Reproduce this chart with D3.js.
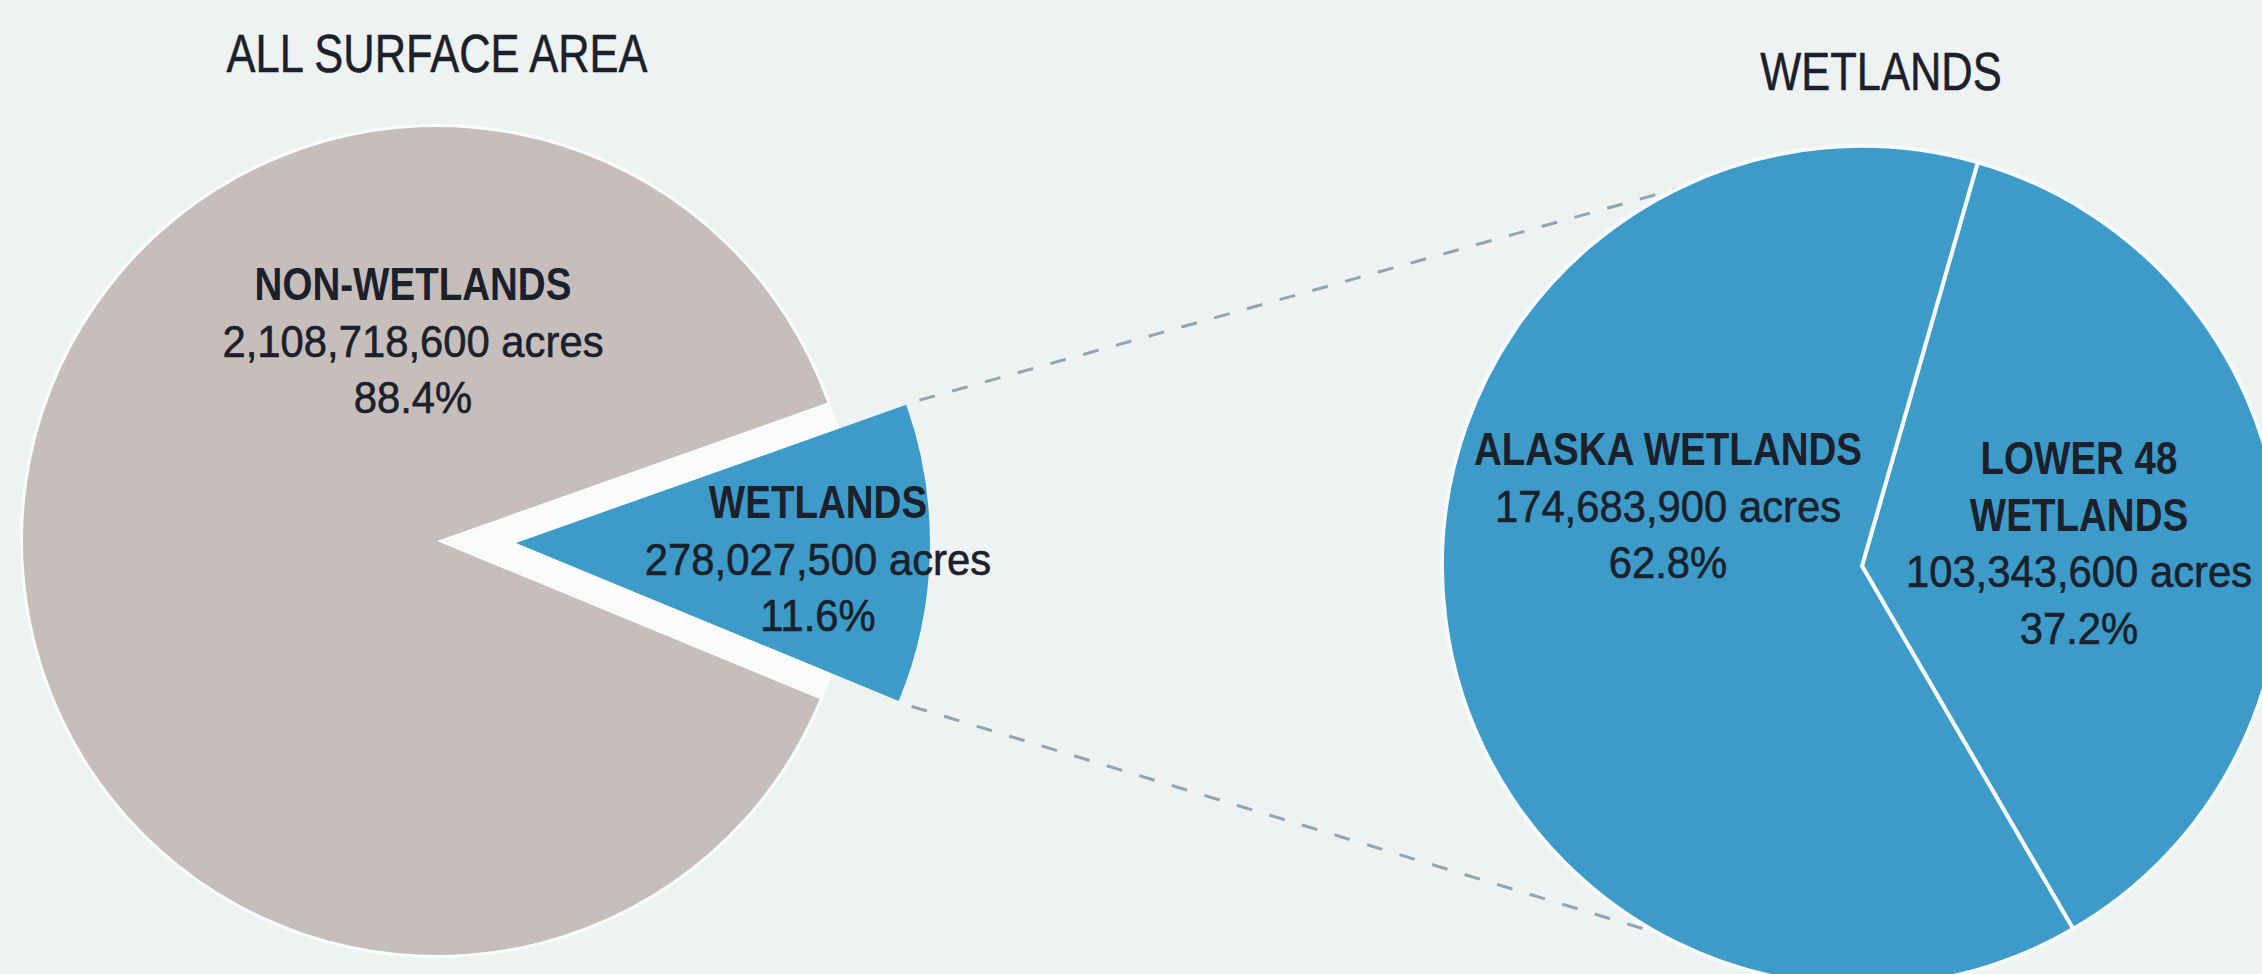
<!DOCTYPE html>
<html>
<head>
<meta charset="utf-8">
<script src="https://cdn.jsdelivr.net/npm/d3@7"></script>
<style>
  html, body { margin: 0; padding: 0; background: #eef2f3; overflow: hidden; }
  svg { display: block; }
</style>
</head>
<body>
<svg id="chart" width="2262" height="974"></svg>
<script>
// ---- Data -------------------------------------------------------------
// All surface area, split into wetlands and everything else (acres)
const surfaceKeys = ["wetlands", "nonWetlands"];
const surfaceNames = [["WETLANDS"], ["NON-WETLANDS"]];
const surfaceAcres = [278027500, 2108718600];

// Wetlands, split by region (acres)
const wetlandKeys = ["lower48", "alaska"];
const wetlandNames = [["LOWER 48", "WETLANDS"], ["ALASKA WETLANDS"]];
const wetlandAcres = [103343600, 174683900];

const panelTitles = ["ALL SURFACE AREA", "WETLANDS"];

// ---- Layout -----------------------------------------------------------
const W = 2262, H = 974;
const deg = Math.PI / 180;
const BG = "#eef2f3";
const GREY = "#c6beba";
const BLUE = "#3c9bc9";
const INK = "#1b202b";
const GAP_WHITE = "#fafcfc";

const leftPie = { cx: 437, cy: 541, r: 414, start: 70.5, explode: 79 };
const rightPie = { cx: 1862, cy: 566, r: 420, start: 16 };

// label anchors relative to each slice's centre: first baseline, line step
const labelAnchor = {
  wetlands:    { dx: 302, dy: -25 },
  nonWetlands: { dx: -24, dy: -241 },
  lower48:     { dx: 217, dy: -92 },
  alaska:      { dx: -194, dy: -101 }
};
const lineStep = 56.5;

// connector lines from the exploded slice to the wetlands pie (angle on right pie)
const connectorEndAngles = [-26, 209];

const fmtAcres = d3.format(",");
const fmtPct = d3.format(".1%");

const svg = d3.select("#chart");
svg.append("rect").attr("width", W).attr("height", H).attr("fill", BG);

// ---- Pies -------------------------------------------------------------
function buildRows(keys, names, acres) {
  const total = d3.sum(acres);
  return keys.map((k, i) => ({ key: k, names: names[i], acres: acres[i], share: acres[i] / total }));
}
const surfaceRows = buildRows(surfaceKeys, surfaceNames, surfaceAcres);
const wetlandRows = buildRows(wetlandKeys, wetlandNames, wetlandAcres);

const pieLeft = d3.pie().sort(null).value(d => d.acres)
  .startAngle(leftPie.start * deg).endAngle(leftPie.start * deg + 2 * Math.PI);
const pieRight = d3.pie().sort(null).value(d => d.acres)
  .startAngle(rightPie.start * deg).endAngle(rightPie.start * deg + 2 * Math.PI);

const leftArcs = pieLeft(surfaceRows);
const rightArcs = pieRight(wetlandRows);

const arcL = d3.arc().innerRadius(0).outerRadius(leftPie.r);
const arcR = d3.arc().innerRadius(0).outerRadius(rightPie.r);

const polar = (cx, cy, r, a) => [cx + r * Math.sin(a), cy - r * Math.cos(a)];

// offset of the pulled-out wetlands slice
const wetArc = leftArcs.find(a => a.data.key === "wetlands");
const greyArc = leftArcs.find(a => a.data.key === "nonWetlands");
const wetMid = (wetArc.startAngle + wetArc.endAngle) / 2;
const wetCx = leftPie.cx + leftPie.explode * Math.sin(wetMid);
const wetCy = leftPie.cy - leftPie.explode * Math.cos(wetMid);

// the white gap around the pulled-out slice stays inside the original disc
svg.append("defs").append("clipPath").attr("id", "leftDisc")
  .append("circle")
  .attr("cx", leftPie.cx).attr("cy", leftPie.cy).attr("r", leftPie.r + 3);

// dashed connectors: outer corners of the pulled-out slice -> wetlands pie rim
const connectorStarts = [
  polar(wetCx, wetCy, leftPie.r + 14, wetArc.startAngle),
  polar(wetCx, wetCy, leftPie.r + 14, wetArc.endAngle)
];
svg.append("g").selectAll("line")
  .data(connectorStarts)
  .join("line")
  .attr("x1", d => d[0]).attr("y1", d => d[1])
  .attr("x2", (d, i) => polar(rightPie.cx, rightPie.cy, rightPie.r, connectorEndAngles[i] * deg)[0])
  .attr("y2", (d, i) => polar(rightPie.cx, rightPie.cy, rightPie.r, connectorEndAngles[i] * deg)[1])
  .attr("stroke", "#91a5b1")
  .attr("stroke-width", 3)
  .attr("stroke-dasharray", "16 18");

// left pie: grey remainder
svg.append("path")
  .attr("transform", `translate(${leftPie.cx},${leftPie.cy})`)
  .attr("d", arcL(greyArc))
  .attr("fill", GREY)
  .attr("stroke", GAP_WHITE)
  .attr("stroke-width", 6)
  .attr("stroke-linejoin", "miter")
  .attr("stroke-miterlimit", 10)
  .style("paint-order", "stroke");

// white gap around the pulled-out slice
svg.append("g").attr("clip-path", "url(#leftDisc)")
  .append("path")
  .attr("transform", `translate(${wetCx},${wetCy})`)
  .attr("d", arcL(wetArc))
  .attr("fill", GAP_WHITE)
  .attr("stroke", GAP_WHITE)
  .attr("stroke-width", 50)
  .attr("stroke-linejoin", "miter")
  .attr("stroke-miterlimit", 10);

// pulled-out wetlands slice
svg.append("path")
  .attr("transform", `translate(${wetCx},${wetCy})`)
  .attr("d", arcL(wetArc))
  .attr("fill", BLUE);

// right pie
svg.append("g")
  .attr("transform", `translate(${rightPie.cx},${rightPie.cy})`)
  .selectAll("path")
  .data(rightArcs)
  .join("path")
  .attr("d", arcR)
  .attr("fill", BLUE)
  .attr("stroke", "#f7fafa")
  .attr("stroke-width", 4)
  .attr("stroke-linejoin", "miter");

// ---- Labels -----------------------------------------------------------
function narrowText(g, x, y, str, size, weight) {
  return g.append("text")
    .attr("transform", `translate(${x},${y}) scale(0.82,1)`)
    .attr("text-anchor", "middle")
    .attr("font-family", "'Liberation Sans', Arial, sans-serif")
    .attr("font-size", size)
    .attr("font-weight", weight)
    .attr("fill", INK)
    .text(str);
}
function plainText(g, x, y, str, size) {
  return g.append("text")
    .attr("transform", `translate(${x},${y}) scale(0.95,1)`)
    .attr("text-anchor", "middle")
    .attr("font-family", "'Liberation Sans', Arial, sans-serif")
    .attr("font-size", size)
    .attr("fill", INK)
    .attr("stroke", INK)
    .attr("stroke-width", 0.6)
    .text(str);
}

const gLabels = svg.append("g");
function drawSliceLabel(row, cx, cy) {
  const anc = labelAnchor[row.key];
  const x = cx + anc.dx;
  let y = cy + anc.dy;
  row.names.forEach(n => { narrowText(gLabels, x, y, n, 47, "bold"); y += lineStep; });
  plainText(gLabels, x, y, `${fmtAcres(row.acres)} acres`, 44); y += lineStep;
  plainText(gLabels, x, y, fmtPct(row.share), 44);
}
leftArcs.forEach(a => {
  const isWet = a.data.key === "wetlands";
  drawSliceLabel(a.data, isWet ? wetCx : leftPie.cx, isWet ? wetCy : leftPie.cy);
});
rightArcs.forEach(a => drawSliceLabel(a.data, rightPie.cx, rightPie.cy));

// panel titles
narrowText(svg, leftPie.cx, 72, panelTitles[0], 53, "normal").attr("stroke", INK).attr("stroke-width", 0.5);
narrowText(svg, 1881, 90, panelTitles[1], 53, "normal").attr("stroke", INK).attr("stroke-width", 0.5);
</script>
</body>
</html>
